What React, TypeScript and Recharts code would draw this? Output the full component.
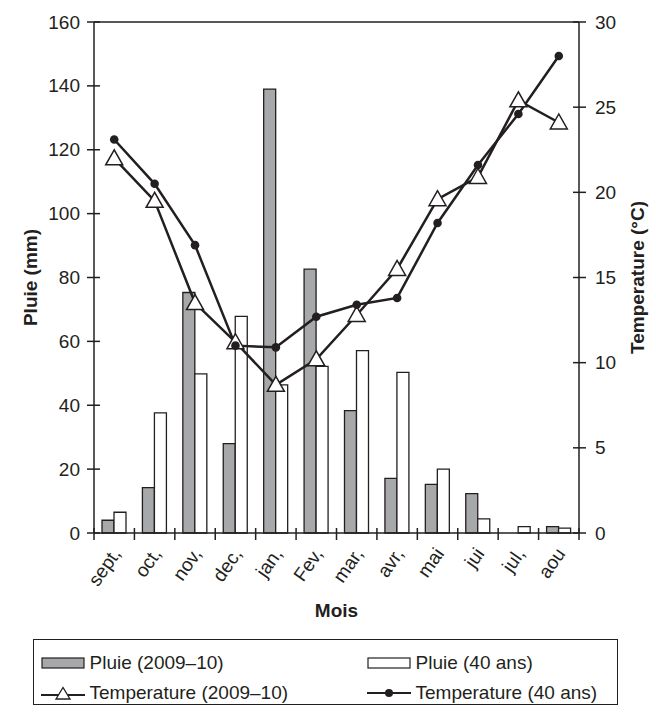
import React from "react";
import {
  ComposedChart,
  Bar,
  Line,
  XAxis,
  YAxis,
  Legend,
  ReferenceLine,
  Label,
} from "recharts";

const months = ["sept,", "oct,", "nov,", "dec,", "jan,", "Fev,", "mar,", "avr,", "mai", "jui", "jul,", "aou"];
const pluie2009 = [4, 14.2, 75.3, 28, 139, 82.6, 38.3, 17.1, 15.2, 12.3, 0, 2];
const pluie40ans = [6.5, 37.6, 49.8, 67.8, 46.4, 52.2, 57.1, 50.3, 20, 4.4, 2, 1.5];
const temp2009 = [22.0, 19.5, 13.5, 11.2, 8.7, 10.2, 12.8, 15.5, 19.6, 20.9, 25.4, 24.1];
const temp40ans = [23.1, 20.5, 16.9, 11.0, 10.9, 12.7, 13.4, 13.8, 18.2, 21.6, 24.6, 28.0];

const pluieTicks = [0, 20, 40, 60, 80, 100, 120, 140, 160];
const tempTicks = [0, 5, 10, 15, 20, 25, 30];

const legendNames = [
  "Pluie (2009\u201310)",
  "Pluie (40 ans)",
  "Temperature (2009\u201310)",
  "Temperature (40 ans)",
];

const data = months.map((mois, i) => ({
  mois,
  p2009: pluie2009[i],
  p40: pluie40ans[i],
  t2009: temp2009[i],
  t40: temp40ans[i],
}));

const INK = "#231f20";
const GREY = "#a7a8aa";
const FONT = "'Liberation Sans', Arial, Helvetica, sans-serif";
const FS = 19;
const TICK = 7;
const GAP = 7;

function LeftTick(props: any) {
  const { x, y, payload } = props;
  const ax = x + TICK + GAP;
  return (
    <g>
      <line x1={ax - 7} x2={ax + 6} y1={y} y2={y} stroke={INK} strokeWidth={1.5} />
      <text x={x} y={y} textAnchor="end" dominantBaseline="central" fill={INK} fontSize={FS} fontFamily={FONT}>
        {payload.value}
      </text>
    </g>
  );
}

function RightTick(props: any) {
  const { x, y, payload } = props;
  const ax = x - TICK - GAP;
  return (
    <g>
      <line x1={ax - 6} x2={ax + 7} y1={y} y2={y} stroke={INK} strokeWidth={1.5} />
      <text x={x + 2} y={y} textAnchor="start" dominantBaseline="central" fill={INK} fontSize={FS} fontFamily={FONT}>
        {payload.value}
      </text>
    </g>
  );
}

function MonthTick(props: any) {
  const { x, y, payload, index, visibleTicksCount, width } = props;
  const ay = y - 6 - 8;
  const half = payload.offset || width / visibleTicksCount / 2;
  const tx = x + 2;
  const ty = ay + 17;
  return (
    <g>
      <line x1={x - half} x2={x - half} y1={ay - 5} y2={ay + 7} stroke={INK} strokeWidth={1.5} />
      {index === visibleTicksCount - 1 && (
        <line x1={x + half} x2={x + half} y1={ay - 5} y2={ay + 7} stroke={INK} strokeWidth={1.5} />
      )}
      <text
        x={tx}
        y={ty}
        textAnchor="end"
        dominantBaseline="central"
        transform={`rotate(-55 ${tx} ${ty})`}
        fill={INK}
        fontSize={FS}
        fontFamily={FONT}
      >
        {payload.value}
      </text>
    </g>
  );
}

function Triangle(props: any) {
  const { cx, cy } = props;
  if (cx == null || cy == null) return <g />;
  return (
    <polygon
      points={`${cx},${cy - 8.5} ${cx - 8.5},${cy + 6.5} ${cx + 8.5},${cy + 6.5}`}
      fill="#fff"
      stroke={INK}
      strokeWidth={1.5}
    />
  );
}

function LegendBox() {
  const icons = [
    <svg width={44} height={14} key="a">
      <rect x={1} y={2} width={42} height={10} fill={GREY} stroke={INK} strokeWidth={1.2} />
    </svg>,
    <svg width={44} height={14} key="b">
      <rect x={1} y={2} width={42} height={10} fill="#fff" stroke={INK} strokeWidth={1.2} />
    </svg>,
    <svg width={44} height={18} key="c">
      <line x1={0} x2={44} y1={11} y2={11} stroke={INK} strokeWidth={2.2} />
      <polygon points="22,3.5 15,15 29,15" fill="#fff" stroke={INK} strokeWidth={1.3} />
    </svg>,
    <svg width={44} height={18} key="d">
      <line x1={0} x2={44} y1={9} y2={9} stroke={INK} strokeWidth={2.2} />
      <circle cx={22} cy={9} r={4} fill={INK} />
    </svg>,
  ];
  const pos = [
    { left: 8, top: 23 },
    { left: 334, top: 23 },
    { left: 8, top: 53 },
    { left: 334, top: 53 },
  ];
  return (
    <div
      style={{
        position: "relative",
        width: 585,
        height: 66,
        border: `1.5px solid ${INK}`,
        boxSizing: "border-box",
        fontFamily: FONT,
        fontSize: FS,
        color: INK,
      }}
    >
      {legendNames.map((name, i) => (
        <div
          key={name}
          style={{
            position: "absolute",
            left: pos[i].left - 1.5,
            top: pos[i].top - 12,
            height: 24,
            display: "flex",
            alignItems: "center",
            whiteSpace: "nowrap",
          }}
        >
          {icons[i]}
          <span style={{ marginLeft: 5 }}>{name}</span>
        </div>
      ))}
    </div>
  );
}

export default function App() {
  return (
    <div style={{ position: "absolute", left: 0, top: 0, width: 656, height: 712, background: "#fff" }}>
      <ComposedChart
        width={656}
        height={712}
        data={data}
        margin={{ top: 22, right: 17, bottom: 109, left: 34 }}
        barGap={0}
      >
        <XAxis
          dataKey="mois"
          interval={0}
          height={70}
          tickSize={6}
          tickMargin={8}
          tickLine={false}
          axisLine={{ stroke: INK, strokeWidth: 1.5 }}
          tick={MonthTick}
        >
          <Label
            content={({ viewBox }: any) => (
              <text
                x={viewBox.x + viewBox.width / 2}
                y={viewBox.y + 77}
                textAnchor="middle"
                dominantBaseline="central"
                fontWeight="bold"
                fontSize={FS}
                fontFamily={FONT}
                fill={INK}
              >
                Mois
              </text>
            )}
          />
        </XAxis>
        <YAxis
          yAxisId="left"
          orientation="left"
          width={60}
          domain={[0, 160]}
          ticks={pluieTicks}
          interval={0}
          tickSize={TICK}
          tickMargin={GAP}
          tickLine={false}
          axisLine={{ stroke: INK, strokeWidth: 1.5 }}
          tick={LeftTick}
        >
          <Label
            content={({ viewBox }: any) => {
              const lx = viewBox.x - 4;
              const ly = viewBox.y + viewBox.height / 2;
              return (
                <text
                  x={lx}
                  y={ly}
                  transform={`rotate(-90 ${lx} ${ly})`}
                  textAnchor="middle"
                  dominantBaseline="central"
                  fontWeight="bold"
                  fontSize={FS}
                  fontFamily={FONT}
                  fill={INK}
                >
                  Pluie (mm)
                </text>
              );
            }}
          />
        </YAxis>
        <YAxis
          yAxisId="right"
          orientation="right"
          width={60}
          domain={[0, 30]}
          ticks={tempTicks}
          interval={0}
          tickSize={TICK}
          tickMargin={GAP}
          tickLine={false}
          axisLine={{ stroke: INK, strokeWidth: 1.5 }}
          tick={RightTick}
        >
          <Label
            content={({ viewBox }: any) => {
              const lx = viewBox.x + 58;
              const ly = viewBox.y + viewBox.height / 2;
              return (
                <text
                  x={lx}
                  y={ly}
                  transform={`rotate(-90 ${lx} ${ly})`}
                  textAnchor="middle"
                  dominantBaseline="central"
                  fontWeight="bold"
                  fontSize={FS}
                  fontFamily={FONT}
                  fill={INK}
                >
                  Temperature (°C)
                </text>
              );
            }}
          />
        </YAxis>
        <ReferenceLine yAxisId="left" y={160} stroke={INK} strokeWidth={1.5} />
        <Bar yAxisId="left" dataKey="p2009" barSize={12} fill={GREY} stroke={INK} strokeWidth={1.3} isAnimationActive={false} />
        <Bar yAxisId="left" dataKey="p40" barSize={12} fill="#fff" stroke={INK} strokeWidth={1.3} isAnimationActive={false} />
        <Line
          yAxisId="right"
          type="linear"
          dataKey="t2009"
          stroke={INK}
          strokeWidth={2.5}
          dot={(p: any) => <Triangle key={`t-${p.index}`} {...p} />}
          activeDot={false}
          isAnimationActive={false}
        />
        <Line
          yAxisId="right"
          type="linear"
          dataKey="t40"
          stroke={INK}
          strokeWidth={2.5}
          dot={{ r: 4.3, fill: INK, stroke: INK, strokeWidth: 0 }}
          activeDot={false}
          isAnimationActive={false}
        />
        <Legend
          layout="horizontal"
          verticalAlign="middle"
          align="center"
          content={LegendBox}
          wrapperStyle={{ left: 33, top: 639, width: 585, height: 66 }}
        />
      </ComposedChart>
    </div>
  );
}
